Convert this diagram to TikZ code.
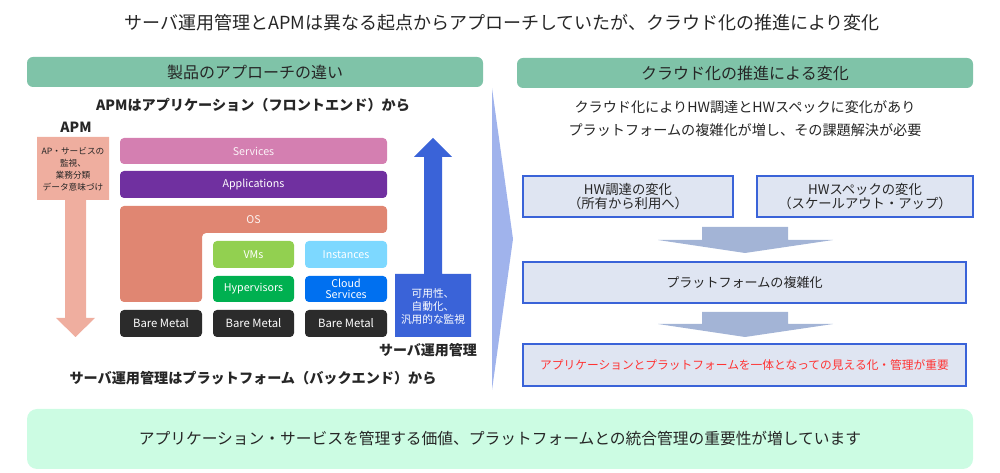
\documentclass[tikz,border=0pt]{standalone}
\usepackage{fontspec}
\setmainfont{Noto Sans CJK JP}
\definecolor{hdr}{HTML}{7FC3A8}
\definecolor{txt}{HTML}{262626}
\definecolor{svc}{HTML}{D47FB1}
\definecolor{app}{HTML}{7030A0}
\definecolor{osc}{HTML}{E08672}
\definecolor{vmc}{HTML}{92D050}
\definecolor{inst}{HTML}{7DD8FF}
\definecolor{hyp}{HTML}{00B050}
\definecolor{cld}{HTML}{0070F0}
\definecolor{bare}{HTML}{2B2B2B}
\definecolor{salm}{HTML}{EFAE9F}
\definecolor{blu}{HTML}{3A63D8}
\definecolor{chev}{HTML}{A0B3EC}
\definecolor{boxf}{HTML}{DFE5F2}
\definecolor{garr}{HTML}{A3B4D6}
\definecolor{mint}{HTML}{CCFCE3}
\definecolor{redt}{HTML}{FF3333}
\tikzset{
  hdrbox/.style={fill=hdr, rounded corners=4.5pt, minimum width=342pt, minimum height=22.5pt, inner sep=0pt, text=txt, font=\fontsize{12}{14}\selectfont},
  bar/.style={rounded corners=3pt, inner sep=0pt, text=white, font=\fontsize{8}{9}\selectfont, align=center},
  flowbox/.style={fill=boxf, draw=blu, line width=1.5pt, inner sep=0pt, text=txt, align=center},
  plain/.style={inner sep=0pt, text=txt},
}
\begin{document}
\begin{tikzpicture}[x=0.75pt,y=-0.75pt]
\useasboundingbox (0,0) rectangle (1000,473);
% title
\node[plain, font=\fontsize{13.5}{16}\selectfont] (title) at (502,23) {サーバ運用管理とAPMは異なる起点からアプローチしていたが、クラウド化の推進により変化};
% headers
\node[hdrbox] (hl) at (255,72) {製品のアプローチの違い};
\node[hdrbox] (hr) at (745,73) {クラウド化の推進による変化};
% chevron
\fill[chev] (492,88) -- (513,239) -- (492,390) -- cycle;
% left panel texts
\node[plain, font=\fontsize{10.6}{12}\selectfont\bfseries] (apmt) at (253,105) {APMはアプリケーション（フロントエンド）から};
\node[plain, font=\fontsize{10.5}{12}\selectfont\bfseries] (apm) at (76,127) {APM};
% salmon callout arrow
\fill[salm] (37,137) -- (109,137) -- (109,200) -- (86,200) -- (86,318) -- (95,318) -- (75.5,337) -- (56,318) -- (65,318) -- (65,200) -- (37,200) -- cycle;
\node[plain, font=\fontsize{6.5}{9}\selectfont, align=center] (apmbox) at (73,169) {AP・サービスの\\監視、\\業務分類\\データ意味づけ};
% stack
\node[bar, fill=svc, minimum width=200.25pt, minimum height=19.5pt, text=white!90!svc] (svcs) at (253.5,151) {Services};
\node[bar, fill=app, minimum width=200.25pt, minimum height=20.25pt] (apps) at (253.5,184.5) {Applications};
\fill[osc, rounded corners=3pt] (120,206) -- (387,206) -- (387,233) -- (202,233) -- (202,302) -- (120,302) -- cycle;
\node[plain, text=white!90!osc, font=\fontsize{8}{9}\selectfont] (os) at (253.5,219.5) {OS};
\node[bar, fill=vmc, minimum width=60.75pt, minimum height=20.25pt] (vms) at (253.5,254.5) {VMs};
\node[bar, fill=inst, minimum width=61.5pt, minimum height=20.25pt] (inst) at (346,254.5) {Instances};
\node[bar, fill=hyp, minimum width=60.75pt, minimum height=19.5pt] (hyp) at (253.5,289) {Hypervisors};
\node[bar, fill=cld, minimum width=61.5pt, minimum height=19.5pt, font=\fontsize{8}{8.2}\selectfont] (cloud) at (346,289) {Cloud\\Services};
\node[bar, fill=bare, minimum width=61.5pt, minimum height=20.25pt, font=\fontsize{8.5}{9}\selectfont] (bm1) at (161,323.5) {Bare Metal};
\node[bar, fill=bare, minimum width=60.75pt, minimum height=20.25pt, font=\fontsize{8.5}{9}\selectfont] (bm2) at (253.5,323.5) {Bare Metal};
\node[bar, fill=bare, minimum width=61.5pt, minimum height=20.25pt, font=\fontsize{8.5}{9}\selectfont] (bm3) at (346,323.5) {Bare Metal};
% blue up arrow with box
\fill[blu] (395,274) -- (424,274) -- (424,157) -- (414,157) -- (433,138) -- (452,157) -- (442,157) -- (442,274) -- (471,274) -- (471,337) -- (395,337) -- cycle;
\node[plain, text=white, font=\fontsize{8}{9.75}\selectfont, align=center] (srvbox) at (433,306) {可用性、\\自動化、\\汎用的な監視};
\node[plain, font=\fontsize{10.5}{12}\selectfont\bfseries] (srv) at (428,350) {サーバ運用管理};
\node[plain, font=\fontsize{10.6}{12}\selectfont\bfseries] (srvt) at (253,378) {サーバ運用管理はプラットフォーム（バックエンド）から};
% right panel
\node[plain, font=\fontsize{10.6}{12}\selectfont] (r1) at (745,107) {クラウド化によりHW調達とHWスペックに変化があり};
\node[plain, font=\fontsize{10.6}{12}\selectfont] (r2) at (745,130) {プラットフォームの複雑化が増し、その課題解決が必要};
\node[flowbox, minimum width=157.5pt, minimum height=30.75pt, font=\fontsize{10}{10.2}\selectfont] (b1) at (628,196.5) {HW調達の変化\\（所有から利用へ）};
\node[flowbox, minimum width=162pt, minimum height=30.75pt, font=\fontsize{10}{10.2}\selectfont] (b2) at (865,196.5) {HWスペックの変化\\（スケールアウト・アップ）};
\fill[garr] (702,227) -- (788,227) -- (788,240) -- (833,240) -- (745,253) -- (658,240) -- (702,240) -- cycle;
\node[flowbox, minimum width=332.25pt, minimum height=30.75pt, font=\fontsize{9.8}{11}\selectfont] (b3) at (744.5,282.5) {プラットフォームの複雑化};
\fill[garr] (702,312) -- (788,312) -- (788,324) -- (833,324) -- (745,337) -- (658,324) -- (702,324) -- cycle;
\node[flowbox, minimum width=332.25pt, minimum height=31.5pt, text=redt, font=\fontsize{8.8}{10}\selectfont] (b4) at (744.5,365) {アプリケーションとプラットフォームを一体となっての見える化・管理が重要};
% bottom
\node[fill=mint, rounded corners=7.5pt, minimum width=709.5pt, minimum height=45pt, inner sep=0pt, text=txt, font=\fontsize{11.8}{13}\selectfont] (bottom) at (500,439) {アプリケーション・サービスを管理する価値、プラットフォームとの統合管理の重要性が増しています};
\end{tikzpicture}
\end{document}
